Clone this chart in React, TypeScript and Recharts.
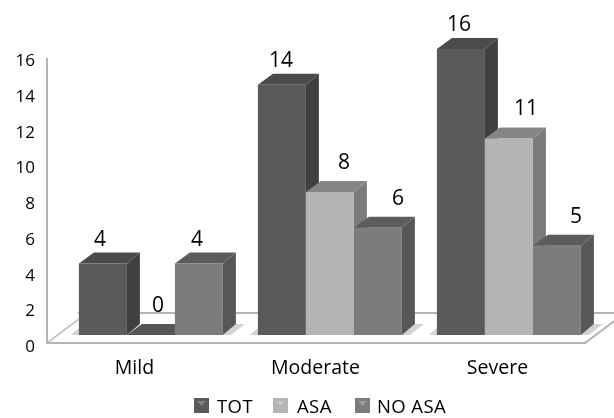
import { BarChart, Bar, XAxis, YAxis, Legend, LabelList } from "recharts";

const categories = ["Mild", "Moderate", "Severe"];
const totValues = [4, 14, 16];
const asaValues = [0, 8, 11];
const noAsaValues = [4, 6, 5];
const yTicks = [0, 2, 4, 6, 8, 10, 12, 14, 16];

// hand placed label nudges, the labels in the original are not centred on the bars
const totLabelDx = [-3, -1, -2];
const asaLabelDx = [7, 14, 17];
const noAsaLabelDx = [-2, 20, 19];

const data = categories.map((name, i) => ({
  name,
  TOT: totValues[i],
  ASA: asaValues[i],
  "NO ASA": noAsaValues[i],
}));

const FONT = "'Open Sans', sans-serif";
const DEPTH_X = 13;
const DEPTH_Y = 11;

const totColors = { front: "#5a5a5a", side: "#404040", top: "#4b4b4b" };
const asaColors = { front: "#b4b4b4", side: "#7b7b7b", top: "#858585" };
const noAsaColors = { front: "#7c7c7c", side: "#575757", top: "#5c5c5c" };

function makeBarShape(c: { front: string; side: string; top: string }, edge: string) {
  return function BarShape(props: any) {
    const { x, y, width, height } = props;
    const r = x + width;
    const b = y + height;
    return (
      <g>
        {edge === "left" && (
          <polygon points={`${x - 8},${b} ${x},${b - 7} ${x},${b}`} fill="#d2d2d2" />
        )}
        {edge === "right" && (
          <polygon
            points={`${r},${b} ${r + DEPTH_X},${b - DEPTH_Y} ${r + 22},${b - DEPTH_Y} ${r + 8},${b}`}
            fill="#d2d2d2"
          />
        )}
        <polygon
          points={`${r},${y} ${r + DEPTH_X},${y - DEPTH_Y} ${r + DEPTH_X},${b - DEPTH_Y} ${r},${b}`}
          fill={c.side}
        />
        <polygon
          points={`${x},${y} ${x + DEPTH_X + 2},${y - DEPTH_Y} ${r + DEPTH_X},${y - DEPTH_Y} ${r},${y}`}
          fill={height > 0 ? c.top : "#555555"}
        />
        {height > 0 && <rect x={x} y={y} width={width} height={height} fill={c.front} />}
      </g>
    );
  };
}

function makeLabel(dxList: number[]) {
  return function BarLabel(props: any) {
    const { x, y, width, value, index } = props;
    const dy = dxList[index] > 0 ? 31 : 26;
    return (
      <text
        x={x + width / 2 + dxList[index]}
        y={y - dy}
        textAnchor="middle"
        dominantBaseline="central"
        fontFamily={FONT}
        fontSize={21}
        fill="#000"
      >
        {value}
      </text>
    );
  };
}

function YTick({ y, payload }: any) {
  return (
    <text x={35} y={y + 10.5} textAnchor="end" dominantBaseline="central" fontFamily={FONT} fontSize={17} fill="#000">
      {payload.value}
    </text>
  );
}

function XTick({ x, payload }: any) {
  const dx = payload.value === "Severe" ? -11 : payload.value === "Moderate" ? -14 : -16;
  return (
    <text x={x + dx} y={366} textAnchor="middle" dominantBaseline="central" fontFamily={FONT} fontSize={19.5} fill="#000">
      {payload.value}
    </text>
  );
}

const legendOffsets: Record<string, { swatch: number; text: number }> = {
  TOT: { swatch: 194, text: 217 },
  ASA: { swatch: 273, text: 297 },
  "NO ASA": { swatch: 355, text: 377 },
};

function LegendRow({ payload }: any) {
  return (
    <svg width={614} height={25} style={{ display: "block" }}>
      {(payload || []).map((p: any) => {
        const o = legendOffsets[p.value];
        return (
          <g key={p.value}>
            <rect x={o.swatch} y={5} width={15} height={15} fill={p.color} />
            <polygon
              points={`${o.swatch + 3},${8} ${o.swatch + 12},${8} ${o.swatch + 7.5},${13}`}
              fill="#fff"
              opacity={0.25}
            />
            <text x={o.text} y={12} dominantBaseline="central" fontFamily={FONT} fontSize={18.5} letterSpacing={0.4} fill="#000">
              {p.value}
            </text>
          </g>
        );
      })}
    </svg>
  );
}

export default function App() {
  return (
    <div
      style={{
        position: "absolute",
        left: 0,
        top: 0,
        width: 614,
        height: 418,
        background: "#fff",
        overflow: "hidden",
        filter: "blur(0.4px)",
      }}
    >
      <BarChart
        width={614}
        height={418}
        data={data}
        margin={{ top: 49, right: 16, bottom: 0, left: 0 }}
        barCategoryGap="10%"
        barGap={0}
      >
        {/* floor and left wall of the 3d box */}
        <g stroke="#b4b4b4" fill="none">
          <polyline points="47,58 47,343 585,343 625,313 78,313" strokeWidth={2} />
          <line x1={47} y1={343} x2={87} y2={313} strokeWidth={1.5} />
        </g>
        <XAxis dataKey="name" axisLine={false} tickLine={false} tick={<XTick />} height={58} interval={0} />
        <YAxis domain={[0, 16]} ticks={yTicks} interval={0} axisLine={false} tickLine={false} tick={<YTick />} width={61} />
        <Legend
          verticalAlign="bottom"
          content={<LegendRow />}
          wrapperStyle={{ position: "absolute", left: 0, top: 393, width: 614, height: 25 }}
        />
        <Bar dataKey="TOT" fill={totColors.front} shape={makeBarShape(totColors, "left")} isAnimationActive={false}>
          <LabelList content={makeLabel(totLabelDx)} />
        </Bar>
        <Bar dataKey="ASA" fill={asaColors.front} shape={makeBarShape(asaColors, "none")} isAnimationActive={false}>
          <LabelList content={makeLabel(asaLabelDx)} />
        </Bar>
        <Bar dataKey="NO ASA" fill={noAsaColors.front} shape={makeBarShape(noAsaColors, "right")} isAnimationActive={false}>
          <LabelList content={makeLabel(noAsaLabelDx)} />
        </Bar>
      </BarChart>
    </div>
  );
}
